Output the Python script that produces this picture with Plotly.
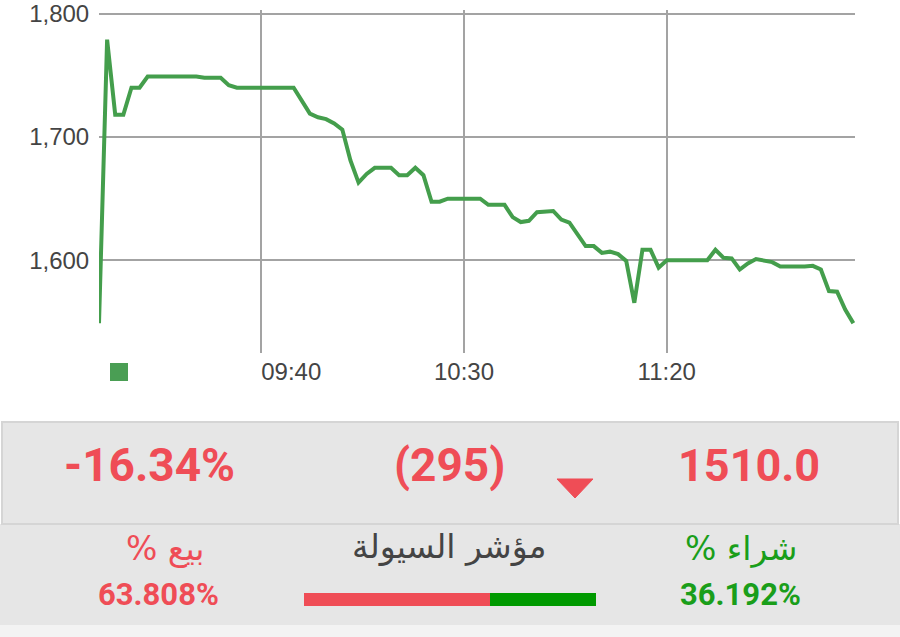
import plotly.graph_objects as go

# ---------------- data ----------------
times = ["09:00","09:02","09:04","09:06","09:08","09:10","09:12","09:24","09:26","09:30",
         "09:32","09:34","09:48","09:52","09:54","09:56","09:58","10:00","10:02","10:04",
         "10:06","10:08","10:12","10:14","10:16","10:18","10:20","10:22","10:24","10:26",
         "10:34","10:36","10:40","10:42","10:44","10:46","10:48","10:52","10:54","10:56",
         "11:00","11:02","11:04","11:06","11:08","11:10","11:12","11:14","11:16","11:18",
         "11:20","11:30","11:32","11:34","11:36","11:38","11:40","11:42","11:46","11:48",
         "11:54","11:56","11:58","12:00","12:02","12:04","12:06"]
prices = [1549,1779,1718,1718,1740,1740,1749,1749,1748,1748,
          1742,1740,1740,1719,1716,1714.5,1711,1706,1681,1663,
          1670,1675,1675,1669,1669,1675,1669,1647.5,1647.5,1650,
          1650,1645,1645,1635,1631,1632,1639,1640,1633,1630.5,
          1611.5,1611.5,1606,1607,1605,1599.5,1565.5,1608.5,1608.5,1594,
          1600,1600,1608.5,1602,1601.5,1592.5,1597.5,1601,1598.5,1595,
          1595,1595.5,1592.5,1575,1574.5,1560,1549]

x_tick_times = ["09:40", "10:30", "11:20"]
x_tick_labels = ["\u00a0" * 9 + "09:40", "10:30", "11:20"]
y_tick_vals = [1600, 1700, 1800]
y_tick_labels = ["1,600", "1,700", "1,800"]

last_price = "1510.0"
change_abs = "(295)"
change_pct = "-16.34%"
buy_label = "شراء %"
sell_label = "بيع %"
liquidity_label = "مؤشر السيولة"
buy_pct = 36.192
sell_pct = 63.808

DAY = "2024-01-01 "
xs = [DAY + t for t in times]

W, H = 900, 637
def px(x):
    return x / W
def py(y):
    return 1 - y / H

RED = "#ef4d56"
GREEN_TXT = "#1a9e1a"
GREEN_BAR = "#009a00"
LINE_GREEN = "#449e4c"
GRID = "#a3a3a3"
RLM = "\u200f"

fig = go.Figure()
fig.add_trace(go.Scatter(x=xs, y=prices, mode="lines",
                         line=dict(color=LINE_GREEN, width=4),
                         showlegend=False, hoverinfo="skip"))

fig.add_trace(go.Bar(x=[sell_pct], y=[0], orientation="h", marker=dict(color=RED, line=dict(width=0)),
                     xaxis="x2", yaxis="y2", showlegend=False, hoverinfo="skip"))
fig.add_trace(go.Bar(x=[buy_pct], y=[0], orientation="h", marker=dict(color=GREEN_BAR, line=dict(width=0)),
                     xaxis="x2", yaxis="y2", showlegend=False, hoverinfo="skip"))

shapes = []
shapes.append(dict(type="rect", xref="paper", yref="paper", x0=px(0), x1=px(900), y0=py(625), y1=py(524),
                   fillcolor="#e6e6e6", line=dict(width=0), layer="below"))
shapes.append(dict(type="rect", xref="paper", yref="paper", x0=px(0), x1=px(900), y0=py(637), y1=py(625),
                   fillcolor="#f3f3f3", line=dict(width=0), layer="below"))
shapes.append(dict(type="rect", xref="paper", yref="paper", x0=px(2), x1=px(898), y0=py(524), y1=py(422),
                   fillcolor="#e6e6e6", line=dict(color="#d5d5d5", width=2), layer="below"))
shapes.append(dict(type="rect", xref="paper", yref="paper", x0=px(110), x1=px(128), y0=py(381), y1=py(363),
                   fillcolor="#4a9e54", line=dict(width=0)))
tri = "M {:.5f},{:.5f} L {:.5f},{:.5f} L {:.5f},{:.5f} Z".format(px(557), py(479), px(593), py(479), px(575), py(498))
shapes.append(dict(type="path", xref="paper", yref="paper", path=tri, fillcolor=RED, line=dict(color=RED, width=1)))

NUM_FONT = "Roboto, Arial, sans-serif"
AR_FONT = "DejaVu Sans, Noto Sans, sans-serif"
def ann(text, x, y, size, color, family, weight="normal"):
    return dict(text=text, xref="paper", yref="paper", x=px(x), y=py(y), xanchor="center", yanchor="middle",
                showarrow=False, font=dict(size=size, color=color, family=family, weight=weight))

annotations = [
    ann(change_pct, 149, 465, 46, RED, NUM_FONT, "bold"),
    ann(change_abs, 449, 465, 46, RED, NUM_FONT, "bold"),
    ann(last_price, 749, 465, 45, RED, NUM_FONT, "bold"),
    ann(RLM + sell_label + RLM, 165, 548, 33, RED, AR_FONT),
    ann(liquidity_label, 449, 546, 33, "#444444", AR_FONT),
    ann(RLM + buy_label + RLM, 741, 548, 33, GREEN_TXT, AR_FONT),
    ann(f"{sell_pct:.3f}%", 158, 594, 31, RED, NUM_FONT, "bold"),
    ann(f"{buy_pct:.3f}%", 740, 594, 31, GREEN_TXT, NUM_FONT, "bold"),
]

fig.update_layout(
    width=W, height=H,
    margin=dict(l=0, r=0, t=0, b=0, pad=0),
    paper_bgcolor="white", plot_bgcolor="white",
    showlegend=False,
    barmode="stack", bargap=0,
    shapes=shapes, annotations=annotations,
    xaxis=dict(domain=[px(99), px(855)], type="date", automargin=False,
               range=[DAY + "09:00:00", DAY + "12:06:25"],
               tickvals=[DAY + t for t in x_tick_times], ticktext=x_tick_labels,
               showgrid=True, gridcolor=GRID, gridwidth=1.5, zeroline=False, showline=False,
               ticks="", ticklabelstandoff=2,
               tickfont=dict(family="Liberation Sans, Arial, sans-serif", size=24, color="#444444")),
    yaxis=dict(domain=[py(353), py(10)], range=[1524.8, 1803.0], automargin=False,
               tickvals=y_tick_vals, ticktext=y_tick_labels,
               showgrid=True, gridcolor=GRID, gridwidth=1.5, zeroline=False, showline=False,
               ticks="outside", ticklen=4, tickcolor="rgba(0,0,0,0)",
               tickfont=dict(family="Liberation Sans, Arial, sans-serif", size=24, color="#444444")),
    xaxis2=dict(domain=[px(304), px(596)], range=[0, 100], anchor="y2", automargin=False,
                showgrid=False, zeroline=False, showticklabels=False, showline=False),
    yaxis2=dict(domain=[py(606), py(593)], range=[-0.5, 0.5], anchor="x2", automargin=False,
                showgrid=False, zeroline=False, showticklabels=False, showline=False),
)

fig.write_html("out.html", config={"displayModeBar": False},
               post_script="document.body.style.margin='0';document.body.style.overflow='hidden';")
